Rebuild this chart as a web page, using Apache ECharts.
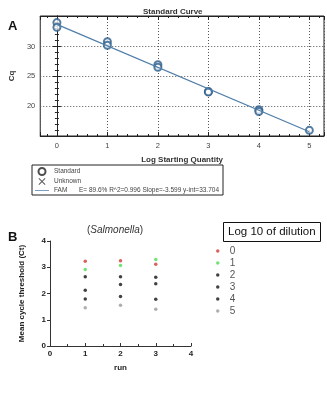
<!DOCTYPE html>
<html>
<head>
<meta charset="utf-8">
<style>
  html, body { margin: 0; padding: 0; background: #fff; }
  #main { width: 327px; height: 400px; }
</style>
<script src="https://cdn.jsdelivr.net/npm/echarts@6/dist/echarts.min.js"></script>
</head>
<body>
<div id="main"></div>
<script>
// panel A: standard curve
var logQty = [0, 0, 1, 1, 2, 2, 3, 3, 4, 4, 5];
var cqVals = [34.0, 33.2, 30.8, 30.2, 26.95, 26.5, 22.45, 22.35, 19.4, 19.1, 15.95];
var fitX = [0, 5];
var fitSlope = -3.599;
var fitIntercept = 33.704;
var famText = 'E= 89.6% R^2=0.996 Slope=-3.599 y-int=33.704';

// panel B: mean Ct per run, one list per dilution
var runs = [1, 2, 3];
var dilutionNames = ['0', '1', '2', '3', '4', '5'];
var dil0 = [3.23, 3.25, 3.11];
var dil1 = [2.91, 3.07, 3.30];
var dil2 = [2.64, 2.64, 2.62];
var dil3 = [2.12, 2.34, 2.37];
var dil4 = [1.79, 1.89, 1.78];
var dil5 = [1.46, 1.55, 1.40];
var dilColors = ['#d23a32', '#4fdc4f', '#111111', '#111111', '#111111', '#9a9a9a'];

var font = 'Liberation Sans';
var myChart = echarts.init(document.getElementById('main'));

var stdData = logQty.map(function (x, i) { return [x, cqVals[i]]; });
var fitData = fitX.map(function (x) { return [x, fitIntercept + fitSlope * x]; });

var dilSeries = [dil0, dil1, dil2, dil3, dil4, dil5].map(function (vals, k) {
  return {
    name: dilutionNames[k],
    type: 'scatter',
    xAxisIndex: 2,
    yAxisIndex: 2,
    symbol: 'circle',
    symbolSize: 3.5,
    itemStyle: { color: dilColors[k] },
    data: runs.map(function (r, i) { return [r, vals[i]]; })
  };
});

var intOnly = function (v) { return Math.abs(v - Math.round(v)) < 1e-6 ? String(Math.round(v)) : ''; };
var dotted = { show: true, lineStyle: { color: '#555', type: [1, 2], width: 1 } };

var option = {
  animation: false,
  backgroundColor: '#fff',
  textStyle: { fontFamily: font },
  title: [
    { text: 'Standard Curve', left: 138, top: 3, textStyle: { fontSize: 8, fontWeight: 'bold', color: '#333', fontFamily: font } },
    { text: 'A', left: 3, top: 15, textStyle: { fontSize: 13, fontWeight: 'bold', color: '#111', fontFamily: font } },
    { text: 'B', left: 3, top: 226, textStyle: { fontSize: 13, fontWeight: 'bold', color: '#111', fontFamily: font } },
    {
      text: '{n|(}{i|Salmonella}{n|)}', left: 82, top: 220,
      textStyle: {
        rich: {
          n: { fontSize: 10, color: '#333', fontWeight: 'normal', fontFamily: font },
          i: { fontSize: 10, color: '#333', fontWeight: 'normal', fontStyle: 'italic', fontFamily: font }
        }
      }
    },
    {
      text: 'Log 10 of dilution', left: 223, top: 222,
      borderColor: '#111', borderWidth: 1, padding: [4, 5, 4, 5],
      textStyle: { fontSize: 11.5, fontWeight: 'normal', color: '#111', fontFamily: font }
    }
  ],
  legend: [
    {
      left: 32, top: 165, orient: 'vertical',
      padding: [2, 4, 1, 3], itemGap: 2,
      itemWidth: 14, itemHeight: 7,
      borderColor: '#222', borderWidth: 1,
      textStyle: {
        fontSize: 6.5, color: '#444', lineHeight: 7,
        rich: {
          a: { fontSize: 6.5, color: '#444', width: 25 },
          b: { fontSize: 6.5, color: '#444' }
        }
      },
      formatter: function (name) {
        return name === 'FAM' ? '{a|FAM}{b|' + famText + '}' : name;
      },
      data: [
        { name: 'Standard', icon: 'emptyCircle', itemStyle: { color: '#222', borderColor: '#222', borderWidth: 1 } },
        { name: 'Unknown', icon: 'path://M0,1L1,0L5,4L9,0L10,1L6,5L10,9L9,10L5,6L1,10L0,9L4,5Z', itemStyle: { color: '#333' } },
        { name: 'FAM', icon: 'path://M0,0L14,0L14,0.9L0,0.9Z', itemStyle: { color: '#6a93bb' } }
      ]
    },
    {
      left: 211, top: 241, orient: 'vertical',
      itemGap: 2, itemWidth: 14, itemHeight: 3.5,
      textStyle: { fontSize: 10, color: '#555', lineHeight: 10 },
      data: dilutionNames
    }
  ],
  grid: [
    { left: 32, top: 16, width: 293, height: 120, show: true, borderColor: '#222', borderWidth: 1 },
    { left: 50, top: 241, width: 141, height: 105 }
  ],
  xAxis: [
    {
      gridIndex: 0, type: 'value', min: -0.33, max: 5.29,
      axisLine: { lineStyle: { color: '#222' } },
      axisTick: { inside: true, length: 4, lineStyle: { color: '#222' } },
      minorTick: { show: true, splitNumber: 5, length: 2, lineStyle: { color: '#222' } },
      splitLine: dotted,
      axisLabel: { formatter: intOnly, fontSize: 7.5, color: '#444', margin: 6 },
      name: 'Log Starting Quantity', nameLocation: 'middle', nameGap: 20,
      nameTextStyle: { fontSize: 8, fontWeight: 'bold', color: '#333' }
    },
    {
      gridIndex: 0, type: 'value', min: -0.33, max: 5.29, position: 'top',
      axisLine: { lineStyle: { color: '#222' } },
      axisTick: { inside: true, length: 4, lineStyle: { color: '#222' } },
      minorTick: { show: true, splitNumber: 5, length: 2, lineStyle: { color: '#222' } },
      splitLine: { show: false },
      axisLabel: { show: false }
    },
    {
      gridIndex: 1, type: 'value', min: 0, max: 4, interval: 1,
      axisLine: { lineStyle: { color: '#333' } },
      axisTick: { inside: true, length: 3, lineStyle: { color: '#333' } },
      minorTick: { show: true, splitNumber: 2, length: 2, lineStyle: { color: '#333' } },
      splitLine: { show: false },
      axisLabel: { fontSize: 8, fontWeight: 'bold', color: '#222', margin: 4 },
      name: 'run', nameLocation: 'middle', nameGap: 18,
      nameTextStyle: { fontSize: 8, fontWeight: 'bold', color: '#222' }
    }
  ],
  yAxis: [
    {
      gridIndex: 0, type: 'value', min: 15, max: 35.1,
      axisLine: { lineStyle: { color: '#222' } },
      axisTick: { inside: true, length: 4, lineStyle: { color: '#222' } },
      minorTick: { show: true, splitNumber: 5, length: 2, lineStyle: { color: '#222' } },
      splitLine: dotted,
      axisLabel: {
        fontSize: 7.5, color: '#444', margin: 5,
        formatter: function (v) { return (v === 20 || v === 25 || v === 30) ? String(v) : ''; }
      },
      name: 'Cq', nameLocation: 'middle', nameGap: 18, nameRotate: 90,
      nameTextStyle: { fontSize: 8, fontWeight: 'bold', color: '#333' }
    },
    {
      gridIndex: 0, type: 'value', min: 15, max: 35.1, position: 'right',
      axisLine: { lineStyle: { color: '#222' } },
      axisTick: { inside: true, length: 4, lineStyle: { color: '#222' } },
      minorTick: { show: true, splitNumber: 5, length: 2, lineStyle: { color: '#222' } },
      splitLine: { show: false },
      axisLabel: { show: false }
    },
    {
      gridIndex: 1, type: 'value', min: 0, max: 4, interval: 1,
      axisLine: { show: true, lineStyle: { color: '#333' } },
      axisTick: { show: true, length: 3, lineStyle: { color: '#333' } },
      splitLine: { show: false },
      axisLabel: { fontSize: 8, fontWeight: 'bold', color: '#222', margin: 4 },
      name: 'Mean cycle threshold (Ct)', nameLocation: 'middle', nameGap: 24, nameRotate: 90,
      nameTextStyle: { fontSize: 8, fontWeight: 'bold', color: '#222' }
    }
  ],
  series: [
    {
      name: 'FAM', type: 'line', xAxisIndex: 0, yAxisIndex: 0,
      symbol: 'none', data: fitData,
      lineStyle: { color: '#4f7ea8', width: 1.2 }, itemStyle: { color: '#4f7ea8' }
    },
    {
      name: 'Standard', type: 'scatter', xAxisIndex: 0, yAxisIndex: 0,
      symbol: 'emptyCircle', symbolSize: 7, data: stdData,
      itemStyle: { color: '#2b5b88', borderColor: '#2b5b88', borderWidth: 1 }
    },
    {
      name: 'Unknown', type: 'scatter', xAxisIndex: 0, yAxisIndex: 0,
      data: [], itemStyle: { color: '#333' }
    }
  ].concat(dilSeries)
};

myChart.setOption(option);

window.addEventListener('resize', function () {
  myChart.resize();
});
</script>
</body>
</html>
